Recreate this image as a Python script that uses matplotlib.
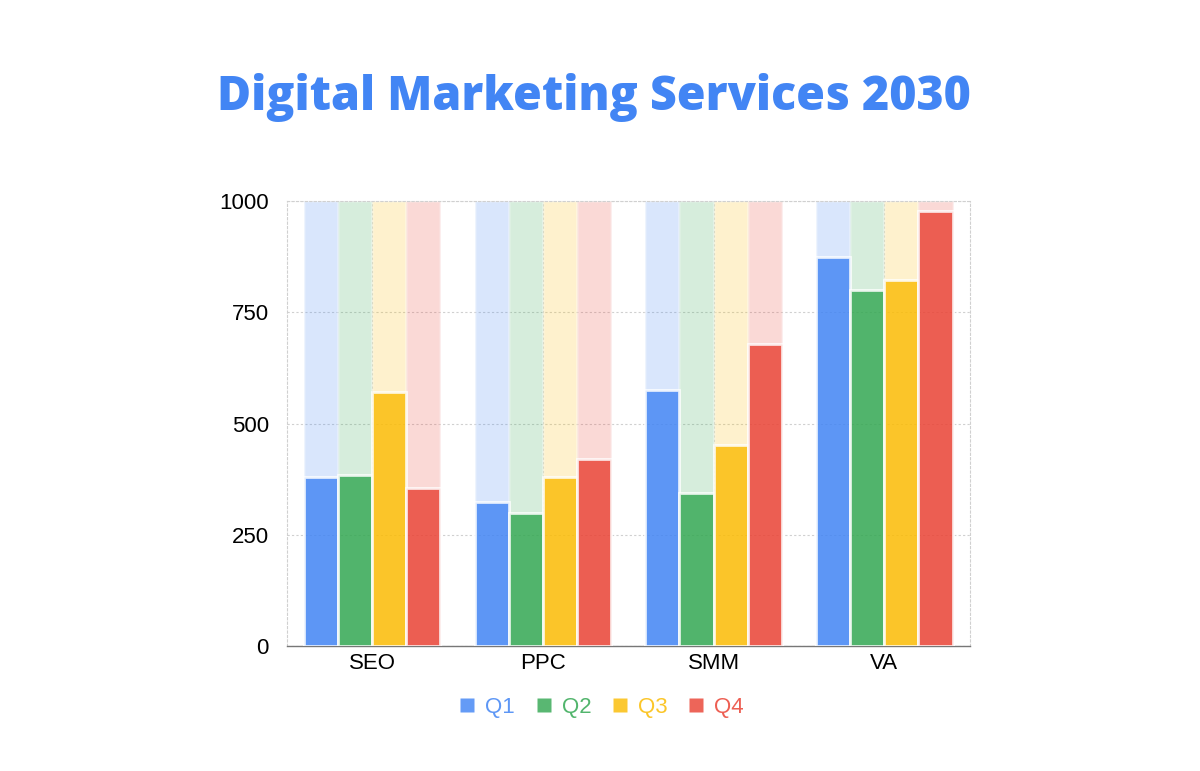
import numpy as np
import matplotlib.pyplot as plt
from matplotlib.lines import Line2D

# 数据
categories = ['SEO', 'PPC', 'SMM', 'VA']
quarters = ['Q1', 'Q2', 'Q3', 'Q4']
q1 = [380, 325, 575, 875]
q2 = [385, 300, 345, 800]
q3 = [572, 380, 452, 822]
q4 = [355, 420, 678, 978]
max_value = 1000
yticks = [0, 250, 500, 750, 1000]

colors = ['#4285F4', '#34A853', '#FBBC05', '#EA4335']

plt.rcParams['font.family'] = ['Liberation Sans', 'DejaVu Sans']

fig = plt.figure(figsize=(12, 7.71), dpi=100)
ax = fig.add_axes([0.239, 0.162, 0.569, 0.577])

x = np.arange(len(categories))
width = 0.2
series = [q1, q2, q3, q4]

for i, vals in enumerate(series):
    pos = x + (i - 1.5) * width
    # 背景条
    ax.bar(pos, [max_value] * len(categories), width, color=colors[i], alpha=0.2,
           edgecolor='white', linewidth=2, zorder=2)
    # 数值条
    ax.bar(pos, vals, width, color=colors[i], alpha=0.82,
           edgecolor='white', linewidth=2, zorder=3)

ax.set_xlim(-0.5, 3.5)
ax.set_ylim(0, max_value)
ax.set_xticks(x)
ax.set_xticklabels(categories, fontsize=16)
ax.set_yticks(yticks)
ax.set_yticklabels([str(v) for v in yticks], fontsize=16)
ax.tick_params(axis='y', length=0, pad=13)
ax.tick_params(axis='x', length=0, pad=5)

ax.grid(True, color='#d0d0d0', linestyle=(0, (2, 2)), linewidth=0.8, zorder=0)
ax.set_axisbelow(True)
for s in ['top', 'right', 'left']:
    ax.spines[s].set_color('#d0d0d0')
    ax.spines[s].set_linestyle((0, (2, 2)))
    ax.spines[s].set_linewidth(0.8)
ax.spines['bottom'].set_color('#777777')
ax.spines['bottom'].set_linewidth(1.0)

fig.text(0.495, 0.874, 'Digital Marketing Services 2030', ha='center', va='center',
         fontsize=33.5, fontweight='heavy', color='#4285F4', family=['Open Sans', 'DejaVu Sans'])

handles = [Line2D([0], [0], marker='s', linestyle='', markersize=10,
                  markerfacecolor=colors[i], markeredgecolor='none', alpha=0.82)
           for i in range(4)]
leg = fig.legend(handles, quarters, loc='center', bbox_to_anchor=(0.5, 0.083), ncol=4,
                 frameon=False, fontsize=16, handletextpad=0.3, columnspacing=0.8,
                 handlelength=1.0)
for t, c in zip(leg.get_texts(), colors):
    t.set_color(c)
    t.set_alpha(0.85)

plt.savefig('out.png', dpi=100)
